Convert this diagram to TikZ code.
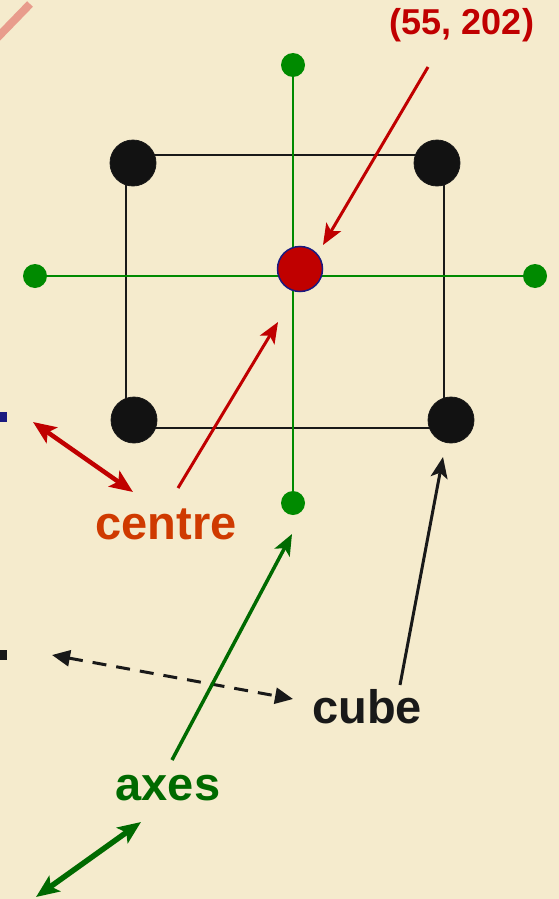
\documentclass[tikz,border=0pt]{standalone}
\usepackage{fontspec}
\setmainfont{Liberation Sans}
\definecolor{parchment}{HTML}{F5EBCD}
\definecolor{axisgreen}{HTML}{008A00}
\definecolor{darkgreen}{HTML}{006A00}
\definecolor{pointred}{HTML}{C00000}
\definecolor{labelorange}{HTML}{CF3A00}
\definecolor{rimblue}{HTML}{1A1A80}
\definecolor{salmon}{HTML}{E89C8C}
\usetikzlibrary{arrows.meta}

\begin{document}
\begin{tikzpicture}[x=1pt,y=-1pt,
    vertex/.style={circle,draw=black!90,fill=black!93,line width=0.8pt,minimum size=46pt,inner sep=0pt},
    axisdot/.style={circle,fill=axisgreen,minimum size=24pt,inner sep=0pt},
    centredot/.style={circle,draw=rimblue,fill=pointred,line width=1.5pt,minimum size=45pt,inner sep=0pt},
    lbl/.style={font=\fontsize{47}{50}\selectfont\bfseries,inner sep=0pt,anchor=base},
    arr/.style={-{Stealth[length=21pt,width=17pt,inset=5pt]},line width=3pt},
    dbl/.style={{Stealth[length=23pt,width=19pt,inset=5pt]}-{Stealth[length=23pt,width=19pt,inset=5pt]}}]
    \fill[parchment] (0,0) rectangle (559,899);
    \useasboundingbox (0,0) rectangle (559,899);
    % clipped fragments at the edges
    \draw[line width=8pt,salmon] (-3,38) -- (30,4);
    \fill[rimblue] (0,412) rectangle (7,422);
    \fill[black!90] (0,650) rectangle (7,660);
    % cube outline and axes
    \draw[line width=2pt,black!90] (126,155) rectangle (444,428);
    \node[axisdot] (top) at (293,65) {}; \node[axisdot] (bottom) at (293,503) {};
    \node[axisdot] (left) at (35,276) {}; \node[axisdot] (right) at (535,276) {};
    \draw[line width=2.2pt,axisgreen] (top)--(bottom); \draw[line width=2.2pt,axisgreen] (left)--(right);
    \node[vertex] (tl) at (133,163) {}; \node[vertex] (tr) at (437,163) {};
    \node[vertex] (bl) at (134,420) {}; \node[vertex] (br) at (451,420) {};
    \node[centredot] (centre) at (300,269) {};
    % labels
    \node[lbl,pointred,font=\fontsize{36}{40}\selectfont\bfseries] (coords) at (462,35) {(55, 202)};
    \node[lbl,labelorange] (centrelbl) at (166,539) {centre};
    \node[lbl,black!90] (cubelbl) at (367,723) {cube};
    \node[lbl,darkgreen] (axeslbl) at (168,800) {axes};
    % free arrow ends
    \coordinate (c1) at (428,67); \coordinate (c2) at (323,245);
    \coordinate (c3) at (178,488); \coordinate (c4) at (278,322);
    \coordinate (c5) at (33,422); \coordinate (c6) at (133,492);
    \coordinate (c7) at (52,655); \coordinate (c8) at (293,699);
    \coordinate (c9) at (400,685); \coordinate (c10) at (443,457);
    \coordinate (c11) at (172,760); \coordinate (c12) at (292,534);
    \coordinate (c13) at (36,897); \coordinate (c14) at (141,822);
    % pointers
    \draw[arr,pointred] (c1)--(c2); \draw[arr,pointred] (c3)--(c4);
    \draw[dbl,pointred,line width=4.5pt] (c5)--(c6);
    \draw[{Triangle[length=18pt,width=16pt]}-{Triangle[length=18pt,width=16pt]},black!90,line width=3pt,dash pattern=on 14pt off 10pt] (c7)--(c8);
    \draw[arr,black!90] (c9)--(c10);
    \draw[arr,darkgreen,line width=3.5pt] (c11)--(c12);
    \draw[dbl,darkgreen,line width=5.5pt] (c13)--(c14);
\end{tikzpicture}
\end{document}
